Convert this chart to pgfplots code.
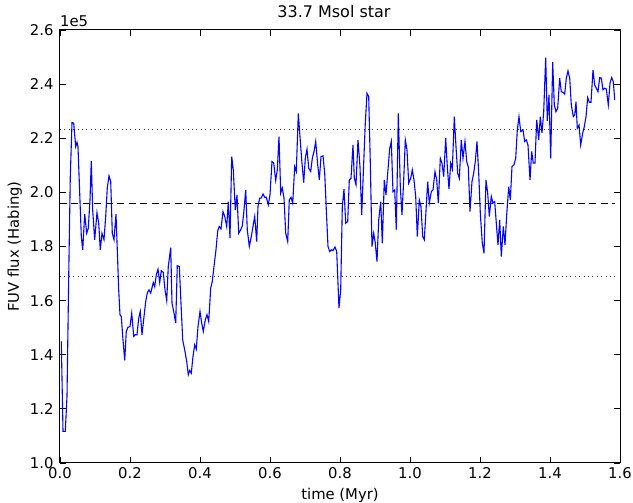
\documentclass[border=0pt]{standalone}
\usepackage{fontspec}
\setmainfont{DejaVu Sans}
\usepackage{pgfplots}
\pgfplotsset{compat=1.18}
\usepackage{pgfplotstable}
\pgfplotstableread{
t v
0.0037 1.449
0.0086 1.117
0.0151 1.117
0.0200 1.246
0.0249 1.689
0.0294 2.058
0.0343 2.258
0.0391 2.256
0.0449 2.169
0.0486 2.185
0.0514 2.169
0.0563 1.997
0.0609 1.837
0.0649 1.788
0.0706 1.920
0.0763 1.849
0.0809 1.868
0.0857 1.972
0.0894 2.116
0.0934 1.935
0.0991 1.825
0.1057 1.925
0.1106 1.886
0.1151 1.788
0.1200 1.849
0.1257 1.825
0.1306 1.911
0.1351 2.016
0.1400 2.061
0.1449 2.040
0.1494 1.849
0.1543 1.825
0.1600 1.920
0.1637 1.788
0.1677 1.640
0.1714 1.548
0.1751 1.541
0.1800 1.455
0.1849 1.379
0.1894 1.486
0.1943 1.502
0.2000 1.504
0.2049 1.554
0.2106 1.468
0.2151 1.474
0.2200 1.474
0.2249 1.535
0.2294 1.560
0.2343 1.474
0.2400 1.541
0.2449 1.597
0.2494 1.628
0.2543 1.640
0.2591 1.628
0.2666 1.667
0.2706 1.652
0.2751 1.695
0.2800 1.716
0.2849 1.667
0.2894 1.711
0.2951 1.704
0.3000 1.640
0.3049 1.600
0.3094 1.726
0.3163 1.796
0.3200 1.591
0.3257 1.554
0.3306 1.517
0.3351 1.729
0.3409 1.726
0.3457 1.591
0.3506 1.455
0.3563 1.418
0.3620 1.375
0.3666 1.326
0.3706 1.342
0.3751 1.332
0.3800 1.394
0.3849 1.437
0.3894 1.421
0.3943 1.504
0.4000 1.560
0.4049 1.517
0.4094 1.486
0.4151 1.529
0.4200 1.548
0.4249 1.523
0.4306 1.646
0.4351 1.671
0.4400 1.726
0.4457 1.788
0.4506 1.858
0.4551 1.874
0.4600 1.865
0.4657 1.929
0.4706 1.911
0.4763 1.874
0.4809 1.966
0.4857 1.831
0.4906 2.132
0.4951 2.083
0.5009 1.935
0.5057 1.991
0.5106 1.849
0.5163 1.862
0.5209 1.876
0.5249 1.923
0.5306 2.009
0.5351 1.862
0.5409 1.800
0.5466 1.837
0.5514 1.874
0.5563 1.911
0.5620 1.818
0.5657 1.948
0.5706 1.979
0.5751 1.979
0.5800 1.994
0.5849 1.982
0.5894 1.982
0.5951 1.954
0.6000 1.991
0.6057 2.114
0.6106 2.108
0.6163 2.044
0.6209 2.083
0.6257 2.206
0.6306 1.997
0.6351 2.016
0.6400 1.979
0.6449 1.849
0.6506 1.818
0.6551 1.972
0.6600 1.982
0.6649 1.960
0.6706 2.095
0.6751 2.077
0.6809 2.292
0.6857 2.206
0.6906 2.120
0.6963 2.036
0.7009 2.126
0.7057 2.160
0.7106 2.089
0.7163 2.077
0.7209 2.126
0.7257 2.151
0.7306 2.188
0.7363 2.102
0.7409 2.046
0.7457 2.132
0.7514 2.135
0.7563 2.071
0.7609 1.935
0.7657 1.800
0.7706 1.781
0.7751 1.788
0.7800 1.785
0.7857 1.798
0.7906 1.781
0.7971 1.572
0.8020 1.640
0.8066 1.948
0.8114 2.012
0.8163 1.886
0.8220 1.892
0.8266 2.046
0.8314 2.052
0.8371 2.175
0.8409 2.052
0.8457 2.028
0.8514 2.194
0.8571 2.095
0.8620 1.917
0.8677 2.108
0.8723 2.256
0.8771 2.366
0.8820 2.354
0.8866 2.108
0.8914 1.800
0.8963 1.849
0.9009 1.812
0.9057 1.744
0.9106 1.898
0.9163 1.966
0.9209 1.812
0.9266 2.046
0.9314 1.991
0.9371 2.083
0.9420 2.163
0.9466 2.188
0.9514 2.003
0.9563 2.009
0.9609 1.862
0.9666 2.292
0.9723 2.021
0.9771 1.917
0.9820 2.046
0.9866 2.194
0.9914 2.157
0.9963 2.034
1.0020 2.052
1.0066 2.083
1.0114 2.046
1.0163 1.985
1.0209 1.837
1.0266 1.972
1.0314 1.948
1.0363 1.837
1.0409 1.825
1.0506 2.040
1.0551 1.960
1.0609 2.003
1.0657 2.009
1.0714 2.077
1.0763 2.046
1.0809 1.960
1.0866 2.126
1.0914 2.108
1.0963 2.058
1.1020 2.200
1.1066 2.095
1.1114 2.012
1.1163 2.108
1.1209 2.086
1.1266 2.280
1.1314 2.169
1.1363 2.071
1.1409 2.052
1.1466 2.194
1.1514 2.126
1.1571 2.188
1.1620 2.114
1.1666 2.093
1.1714 1.929
1.1771 2.040
1.1820 2.071
1.1866 2.114
1.1914 2.188
1.1963 2.071
1.2009 1.923
1.2066 1.812
1.2114 1.775
1.2171 2.046
1.2220 1.997
1.2266 1.911
1.2323 1.985
1.2371 1.960
1.2420 1.966
1.2466 1.886
1.2514 1.806
1.2563 1.898
1.2609 1.763
1.2666 1.874
1.2714 1.806
1.2763 1.917
1.2820 2.021
1.2866 1.972
1.2914 2.095
1.2971 2.102
1.3020 2.126
1.3066 2.231
1.3114 2.280
1.3163 2.225
1.3229 2.231
1.3277 2.188
1.3323 2.194
1.3371 2.175
1.3429 2.046
1.3477 2.151
1.3523 2.108
1.3571 2.108
1.3620 2.268
1.3677 2.194
1.3723 2.280
1.3771 2.219
1.3820 2.298
1.3877 2.498
1.3923 2.264
1.3971 2.360
1.4020 2.126
1.4077 2.481
1.4123 2.323
1.4171 2.298
1.4220 2.311
1.4277 2.422
1.4323 2.372
1.4371 2.370
1.4420 2.363
1.4466 2.422
1.4514 2.449
1.4563 2.422
1.4609 2.323
1.4666 2.280
1.4706 2.286
1.4743 2.335
1.4780 2.237
1.4829 2.249
1.4877 2.175
1.4934 2.219
1.4980 2.243
1.5029 2.280
1.5077 2.350
1.5123 2.333
1.5171 2.333
1.5229 2.452
1.5277 2.397
1.5323 2.385
1.5371 2.372
1.5420 2.424
1.5466 2.422
1.5514 2.379
1.5563 2.385
1.5609 2.382
1.5666 2.323
1.5714 2.403
1.5763 2.424
1.5809 2.409
1.5849 2.342
}\fluxdata
\pgfplotstableread{
t v
0.0 1.959
1.585 1.959
}\meanline
\pgfplotstableread{
t v
0.0 2.231
1.585 2.231
}\upperline
\pgfplotstableread{
t v
0.0 1.689
1.585 1.689
}\lowerline
\begin{document}
\begin{tikzpicture}
\useasboundingbox (-60pt,-40pt) rectangle (573pt,463pt);
\begin{axis}[
  scale only axis,
  width=560pt, height=433pt,
  at={(0pt,0pt)}, anchor=south west,
  xmin=0, xmax=1.6, ymin=1.0, ymax=2.6,
  xtick={0,0.2,...,1.6}, ytick={1.0,1.2,...,2.6},
  xticklabels={0.0,0.2,0.4,0.6,0.8,1.0,1.2,1.4,1.6},
  yticklabels={1.0,1.2,1.4,1.6,1.8,2.0,2.2,2.4,2.6},
  tick align=inside,
  major tick length=6pt,
  minor tick num=0,
  every tick/.style={black, line width=0.9pt},
  axis line style={black, line width=1pt},
  tick label style={font=\fontsize{14.8}{17}\selectfont},
  xticklabel style={yshift=-1pt},
  yticklabel style={xshift=-3pt},
  label style={font=\fontsize{14.8}{17}\selectfont},
  xlabel={time (Myr)},
  ylabel={FUV flux (Habing)},
  xlabel style={yshift=-3pt},
  ylabel style={yshift=1pt},
  title={33.7 Msol star},
  title style={font=\fontsize{16}{19}\selectfont, yshift=3pt, xshift=-6pt},
  /pgf/number format/assume math mode=true,
  clip mode=individual,
]
\addplot[black, line width=0.9pt, dash pattern=on 7pt off 4.5pt] table[x=t,y=v] {\meanline};
\addplot[black!80, line width=1pt, dash pattern=on 1.1pt off 3.3pt] table[x=t,y=v] {\upperline};
\addplot[black!80, line width=1pt, dash pattern=on 1.1pt off 3.3pt] table[x=t,y=v] {\lowerline};
\addplot[blue, line width=1.1pt] table[x=t,y=v] {\fluxdata};
\node[anchor=south west, inner sep=0pt, font=\fontsize{14.8}{17}\selectfont] at (rel axis cs:0,1) [yshift=3pt] {1e5};
\end{axis}
\end{tikzpicture}
\end{document}
